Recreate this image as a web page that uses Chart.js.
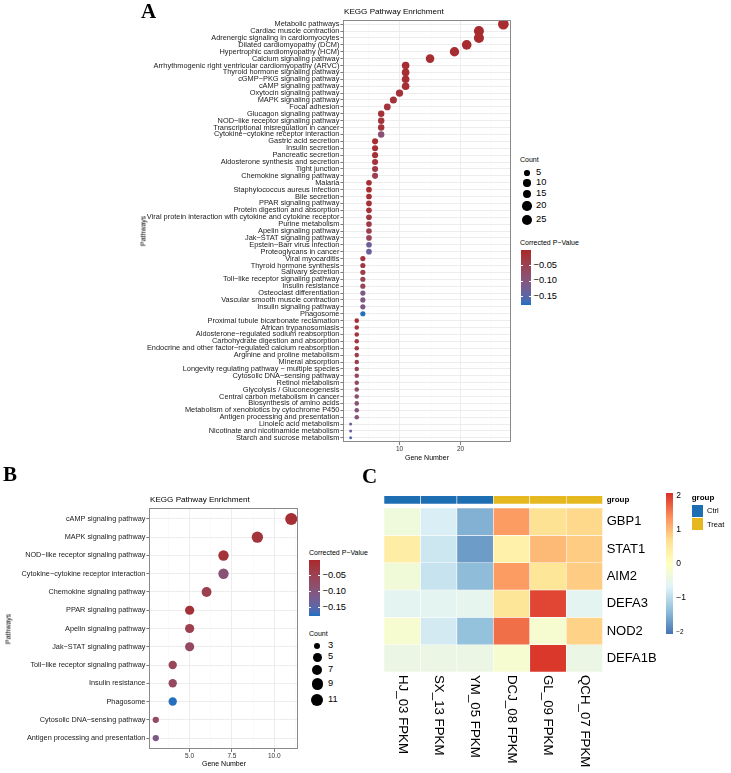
<!DOCTYPE html>
<html><head><meta charset="utf-8">
<script src="https://cdn.jsdelivr.net/npm/chart.js@4.4.1/dist/chart.umd.min.js"></script>
<style>
html,body{margin:0;padding:0;background:#fff;}
#wrap{position:relative;width:731px;height:773px;overflow:hidden;font-family:'Liberation Sans',Arial,sans-serif;background:#fff;}
canvas{position:absolute;}
.t{position:absolute;white-space:nowrap;line-height:1;color:#000;}
.letter{font-family:'Liberation Serif','Times New Roman',serif;font-weight:bold;}
.blk{position:absolute;}
</style></head><body><div id="wrap">
<canvas id="cA" width="520" height="470" style="left:0;top:0"></canvas>
<canvas id="cB" width="305" height="293" style="left:0;top:480px"></canvas>
<canvas id="cC" width="300" height="293" style="left:370px;top:480px"></canvas>
</div>
<script>
// ================= DATA =================
const pathwaysA = [
 "Metabolic pathways","Cardiac muscle contraction","Adrenergic signaling in cardiomyocytes",
 "Dilated cardiomyopathy (DCM)","Hypertrophic cardiomyopathy (HCM)","Calcium signaling pathway",
 "Arrhythmogenic right ventricular cardiomyopathy (ARVC)","Thyroid hormone signaling pathway",
 "cGMP\u2212PKG signaling pathway","cAMP signaling pathway","Oxytocin signaling pathway",
 "MAPK signaling pathway","Focal adhesion","Glucagon signaling pathway",
 "NOD\u2212like receptor signaling pathway","Transcriptional misregulation in cancer",
 "Cytokine\u2212cytokine receptor interaction","Gastric acid secretion","Insulin secretion",
 "Pancreatic secretion","Aldosterone synthesis and secretion","Tight junction",
 "Chemokine signaling pathway","Malaria","Staphylococcus aureus infection","Bile secretion",
 "PPAR signaling pathway","Protein digestion and absorption",
 "Viral protein interaction with cytokine and cytokine receptor","Purine metabolism",
 "Apelin signaling pathway","Jak\u2212STAT signaling pathway","Epstein\u2212Barr virus infection",
 "Proteoglycans in cancer","Viral myocarditis","Thyroid hormone synthesis","Salivary secretion",
 "Toll\u2212like receptor signaling pathway","Insulin resistance","Osteoclast differentiation",
 "Vascular smooth muscle contraction","Insulin signaling pathway","Phagosome",
 "Proximal tubule bicarbonate reclamation","African trypanosomiasis",
 "Aldosterone\u2212regulated sodium reabsorption","Carbohydrate digestion and absorption",
 "Endocrine and other factor\u2212regulated calcium reabsorption","Arginine and proline metabolism",
 "Mineral absorption","Longevity regulating pathway \u2212 multiple species",
 "Cytosolic DNA\u2212sensing pathway","Retinol metabolism","Glycolysis / Gluconeogenesis",
 "Central carbon metabolism in cancer","Biosynthesis of amino acids",
 "Metabolism of xenobiotics by cytochrome P450","Antigen processing and presentation",
 "Linoleic acid metabolism","Nicotinate and nicotinamide metabolism","Starch and sucrose metabolism"
];
const geneNumberA = [27,23,23,21,19,15,11,11,11,11,10,9,8,7,7,7,7,6,6,6,6,6,6,5,5,5,5,5,5,5,5,5,5,5,
 4,4,4,4,4,4,4,4,4,3,3,3,3,3,3,3,3,3,3,3,3,3,3,3,2,2,2];
const pvalueA = [-0.005,-0.004,-0.005,-0.006,-0.008,-0.010,-0.008,-0.010,-0.012,-0.012,-0.015,-0.020,
 -0.020,-0.015,-0.018,-0.020,-0.090,-0.010,-0.012,-0.015,-0.020,-0.035,-0.045,-0.008,-0.010,-0.012,
 -0.015,-0.018,-0.025,-0.035,-0.045,-0.060,-0.130,-0.135,-0.020,-0.030,-0.040,-0.055,-0.060,-0.110,
 -0.105,-0.110,-0.175,-0.012,-0.020,-0.025,-0.030,-0.035,-0.040,-0.045,-0.055,-0.065,-0.070,-0.075,
 -0.080,-0.090,-0.095,-0.100,-0.120,-0.130,-0.150];

const pathwaysB = ["cAMP signaling pathway","MAPK signaling pathway","NOD\u2212like receptor signaling pathway",
 "Cytokine\u2212cytokine receptor interaction","Chemokine signaling pathway","PPAR signaling pathway",
 "Apelin signaling pathway","Jak\u2212STAT signaling pathway","Toll\u2212like receptor signaling pathway",
 "Insulin resistance","Phagosome","Cytosolic DNA\u2212sensing pathway","Antigen processing and presentation"];
const geneNumberB = [11,9,7,7,6,5,5,5,4,4,4,3,3];
const pvalueB = [-0.012,-0.020,-0.018,-0.090,-0.045,-0.015,-0.045,-0.065,-0.060,-0.065,-0.175,-0.070,-0.110];

const countTicksA = [5,10,15,20,25];
const countTicksB = [3,5,7,9,11];
const pvalueTicks = [-0.05,-0.10,-0.15];
const pvalueLimits = [-0.177, 0.0];

const samples = ["HJ_03 FPKM","SX_13 FPKM","YM_05 FPKM","DCJ_08 FPKM","GL_09 FPKM","QCH_07 FPKM"];
const sampleGroups = ["Ctrl","Ctrl","Ctrl","Treat","Treat","Treat"];
const genes = ["GBP1","STAT1","AIM2","DEFA3","NOD2","DEFA1B"];
const zGBP1   = [-0.35,-0.75,-1.50, 1.25, 0.65, 0.75];
const zSTAT1  = [ 0.40,-0.85,-1.70, 0.30, 1.00, 0.85];
const zAIM2   = [-0.30,-0.90,-1.40, 1.25, 0.55, 0.85];
const zDEFA3  = [-0.60,-0.60,-0.55, 0.55, 1.90,-0.60];
const zNOD2   = [-0.20,-0.80,-1.35, 1.60,-0.20, 0.80];
const zDEFA1B = [-0.45,-0.45,-0.45,-0.20, 2.00,-0.45];
const heatTicks = [2,1,0,-1,-2];
const heatLimit = 2.06;

// ================= HELPERS =================
const FONT = "'Liberation Sans', Arial, sans-serif";
const wrap = document.getElementById('wrap');
function hex2rgb(h){h=h.replace('#','');return [0,2,4].map(i=>parseInt(h.substr(i,2),16));}
function toLin(c){c/=255;return c<=0.04045?c/12.92:Math.pow((c+0.055)/1.055,2.4);}
function fromLin(c){c=c<=0.0031308?12.92*c:1.055*Math.pow(c,1/2.4)-0.055;return Math.round(Math.max(0,Math.min(1,c))*255);}
function rgb2lab(rgb){
  const [R,G,B]=rgb.map(toLin);
  const X=(0.4124*R+0.3576*G+0.1805*B)/0.95047, Y=0.2126*R+0.7152*G+0.0722*B, Z=(0.0193*R+0.1192*G+0.9505*B)/1.08883;
  const f=t=>t>0.008856?Math.cbrt(t):7.787*t+16/116;
  const fx=f(X),fy=f(Y),fz=f(Z);
  return [116*fy-16,500*(fx-fy),200*(fy-fz)];
}
function lab2rgb(lab){
  const fy=(lab[0]+16)/116, fx=fy+lab[1]/500, fz=fy-lab[2]/200;
  const inv=t=>{const t3=t*t*t;return t3>0.008856?t3:(t-16/116)/7.787;};
  const X=inv(fx)*0.95047, Y=inv(fy), Z=inv(fz)*1.08883;
  const R=3.2406*X-1.5372*Y-0.4986*Z, G=-0.9689*X+1.8758*Y+0.0415*Z, B=0.0557*X-0.2040*Y+1.0570*Z;
  return 'rgb('+fromLin(R)+','+fromLin(G)+','+fromLin(B)+')';
}
const labLow = rgb2lab(hex2rgb('#1C70C0')), labHigh = rgb2lab(hex2rgb('#A8282B'));
function pColor(p){
  let t=(p-pvalueLimits[0])/(pvalueLimits[1]-pvalueLimits[0]); t=Math.max(0,Math.min(1,t));
  return lab2rgb(labLow.map((v,i)=>v+(labHigh[i]-v)*t));
}
const rdylbu = ['#4575B4','#91BFDB','#E0F3F8','#FFFFBF','#FEE090','#FC8D59','#D73027'].map(hex2rgb);
function heatColor(z){
  let t=(z+heatLimit)/(2*heatLimit); t=Math.max(0,Math.min(1,t));
  const s=t*6, i=Math.min(5,Math.floor(s)), f=s-i;
  const c=rdylbu[i].map((v,k)=>Math.round(v+(rdylbu[i+1][k]-v)*f));
  return 'rgb('+c.join(',')+')';
}
const groupColors = {Ctrl:'#1E6EB4', Treat:'#E5B81F'};
function radiusA(c){return (3+7.7*Math.sqrt(Math.max(0,(c-2)/25)))/2;}
function radiusB(c){return (6.3+5.8*Math.sqrt(Math.max(0,(c-3)/8)))/2;}

function addText(txt,x,cy,size,o={}){
  const d=document.createElement('div'); d.className='t'+(o.cls?' '+o.cls:''); d.textContent=txt;
  d.style.fontSize=size+'px'; d.style.left=x+'px'; d.style.top=(cy-0.53*size)+'px';
  if(o.bold) d.style.fontWeight='bold';
  if(o.color) d.style.color=o.color;
  if(o.center) d.style.transform='translateX(-50%)';
  if(o.rot){d.style.top=cy+'px';d.style.transform='translate(-50%,-50%) rotate(-90deg)';}
  wrap.appendChild(d); return d;
}
function addBlock(x,y,w,h,bg,extra){
  const d=document.createElement('div'); d.className='blk';
  Object.assign(d.style,{left:x+'px',top:y+'px',width:w+'px',height:h+'px',background:bg},extra||{});
  wrap.appendChild(d); return d;
}

const boxPlugin = {id:'panelBox', afterDatasetsDraw(chart){
  const a=chart.chartArea, ctx=chart.ctx; ctx.save(); ctx.strokeStyle='#8A8A8A'; ctx.lineWidth=1;
  ctx.strokeRect(Math.round(a.left)+0.5,Math.round(a.top)+0.5,Math.round(a.right-a.left)-1,Math.round(a.bottom-a.top)-1);
  ctx.restore();}};

function dotChart(canvasId, pathways, genesN, pvals, radiusFn, cfg){
  return new Chart(document.getElementById(canvasId),{
    type:'scatter',
    data:{datasets:[{
      data: genesN.map((g,i)=>({x:g,y:i+1})),
      pointRadius: c=>radiusFn(genesN[c.dataIndex]),
      pointHoverRadius: c=>radiusFn(genesN[c.dataIndex]),
      pointBackgroundColor: c=>pColor(pvals[c.dataIndex]),
      pointBorderWidth:0, borderWidth:0
    }]},
    options:{
      responsive:false, animation:false, devicePixelRatio:1, events:[],
      layout:{padding:cfg.padding},
      plugins:{legend:{display:false},tooltip:{enabled:false}},
      scales:{
        x:{type:'linear',min:cfg.xmin,max:cfg.xmax,
          afterBuildTicks:s=>{s.ticks=cfg.xticks.map(v=>({value:v}));},
          afterFit:s=>{s.height=cfg.xh;},
          ticks:{callback:v=>cfg.xmajor.includes(v)?cfg.xfmt(v):'',font:{size:6.5,family:FONT},color:'#333',padding:0,maxRotation:0,autoSkip:false},
          grid:{color:c=>(c.tick&&cfg.xmajor.includes(c.tick.value))?'#EBEBEB':'#F4F4F4',
                lineWidth:c=>(c.tick&&cfg.xmajor.includes(c.tick.value))?0.9:0.5,
                tickLength:3, tickWidth:0.7,
                tickColor:c=>(c.tick&&cfg.xmajor.includes(c.tick.value))?'#444':'rgba(0,0,0,0)'},
          border:{display:false}},
        y:{type:'linear',min:0.4,max:pathways.length+0.6,reverse:true,
          afterBuildTicks:s=>{s.ticks=pathways.map((p,i)=>({value:i+1}));},
          afterFit:s=>{s.width=cfg.yw;},
          ticks:{callback:(v,i)=>pathways[i],autoSkip:false,font:{size:cfg.yfont,family:FONT},color:'#1a1a1a',padding:1},
          grid:{color:'#EBEBEB',lineWidth:0.9,tickLength:2.6,tickWidth:0.7,tickColor:'#444'},
          border:{display:false}}
      }
    },
    plugins:[boxPlugin]
  });
}

// ================= PANEL A =================
dotChart('cA',pathwaysA,geneNumberA,pvalueA,radiusA,{
  padding:{left:136,top:20,right:9,bottom:0}, xmin:0.75,xmax:28.25, xticks:[5,10,15,20,25], xmajor:[10,20],
  xfmt:v=>String(v), xh:28, yw:207, yfont:7.4});
addText('A',141,12,21,{cls:'letter'});
addText('KEGG Pathway Enrichment',344,12,8.1);
addText('Pathways',142.5,231,7,{rot:true});
addText('Gene Number',427,457.5,7,{center:true});
// Count legend A
addText('Count',520,160,7);
const legYA=[173.3,183,194,206,219.7];
countTicksA.forEach((c,i)=>{const r=radiusA(c);
  addBlock(527-r,legYA[i]-r,2*r,2*r,'#000',{borderRadius:'50%'});
  addText(String(c),536,legYA[i],9.3);});
// colour legend
function colourBar(x,y,w,h){
  const stops=[];for(let k=0;k<=20;k++){const p=pvalueLimits[1]-(pvalueLimits[1]-pvalueLimits[0])*k/20;stops.push(pColor(p)+' '+(k*5)+'%');}
  addBlock(x,y,w,h,'linear-gradient(to bottom,'+stops.join(',')+')');
  pvalueTicks.forEach(p=>{const yy=y+(pvalueLimits[1]-p)/(pvalueLimits[1]-pvalueLimits[0])*h;
    addBlock(x,yy-0.5,2,1,'#fff'); addBlock(x+w-2,yy-0.5,2,1,'#fff');
    addText('\u2212'+Math.abs(p).toFixed(2),x+w+2.5,yy,9.3);});
}
addText('Corrected P\u2212Value',520,243,7);
colourBar(520.7,250,10.3,55);

// ================= PANEL B =================
dotChart('cB',pathwaysB,geneNumberB,pvalueB,radiusB,{
  padding:{left:14,top:28,right:7,bottom:0}, xmin:2.6,xmax:11.4, xticks:[3.75,5,6.25,7.5,8.75,10,11.25], xmajor:[5,7.5,10],
  xfmt:v=>v.toFixed(1), xh:24, yw:135, yfont:7.3});
addText('B',3,475,21,{cls:'letter'});
addText('KEGG Pathway Enrichment',150,500,8.1);
addText('Pathways',8,628.5,7,{rot:true});
addText('Gene Number',224,764,7,{center:true});
addText('Corrected P\u2212Value',309,553,7);
colourBar(309.3,560,10.7,56);
addText('Count',309,634,7);
const legYB=[645.7,657.3,670,684,700];
countTicksB.forEach((c,i)=>{const r=radiusB(c);
  addBlock(317.3-r,legYB[i]-r,2*r,2*r,'#000',{borderRadius:'50%'});
  addText(String(c),328,legYB[i],9.3);});

// ================= PANEL C =================
const heatRows=[zGBP1,zSTAT1,zAIM2,zDEFA3,zNOD2,zDEFA1B];
const annTop=-0.45, annBottom=-0.146;
const colLabelPlugin={id:'colLabels',afterDraw(chart){
  const ctx=chart.ctx, xs=chart.scales.x, b=chart.chartArea.bottom;
  ctx.save(); ctx.font='13.3px '+FONT; ctx.fillStyle='#000'; ctx.textAlign='left'; ctx.textBaseline='middle';
  samples.forEach((s,i)=>{ctx.save();ctx.translate(xs.getPixelForValue(i),b+3);ctx.rotate(Math.PI/2);ctx.fillText(s,0,0);ctx.restore();});
  ctx.restore();}};
new Chart(document.getElementById('cC'),{
  type:'bar',
  data:{labels:samples,datasets:[
    {label:'group',data:samples.map(()=>[annTop,annBottom]),backgroundColor:sampleGroups.map(g=>groupColors[g])},
    ...genes.map((g,r)=>({label:g,data:samples.map(()=>[r,r+1]),backgroundColor:heatRows[r].map(heatColor)}))
  ]},
  options:{
    responsive:false,animation:false,devicePixelRatio:1,events:[],
    layout:{padding:{left:14,top:15.7,right:0,bottom:101}},
    plugins:{legend:{display:false},tooltip:{enabled:false}},
    datasets:{bar:{grouped:false,categoryPercentage:1,barPercentage:1,borderWidth:0.6,borderColor:'#ffffff',borderSkipped:false}},
    scales:{
      x:{type:'category',display:false,offset:true},
      y:{type:'linear',position:'right',min:annTop,max:6,reverse:true,
        afterBuildTicks:s=>{s.ticks=[(annTop+annBottom)/2,...genes.map((g,i)=>i+0.5)].map(v=>({value:v}));},
        afterFit:s=>{s.width=67.3;},
        ticks:{callback:(v,i)=>i===0?'group':genes[i-1],autoSkip:false,color:'#000',padding:4,
          font:c=>c.index===0?{size:8,weight:'bold',family:FONT}:{size:13,family:FONT}},
        grid:{display:false,drawTicks:false},border:{display:false}}
    }
  },
  plugins:[colLabelPlugin]
});
addText('C',362,477,21,{cls:'letter'});
// heat colour legend
(function(){
  const x=665.7,y=493,w=7.6,h=141;
  const stops=[];for(let k=0;k<=24;k++){const z=heatLimit-2*heatLimit*k/24;stops.push(heatColor(z)+' '+(k*100/24).toFixed(2)+'%');}
  addBlock(x,y,w,h,'linear-gradient(to bottom,'+stops.join(',')+')');
  heatTicks.forEach(z=>{const yy=y+(heatLimit-z)/(2*heatLimit)*h;
    addText(z<0?'\u2212'+Math.abs(z):String(z),x+w+3,yy,z===-2?6.5:8.5);});
})();
// group legend
addText('group',691.7,498,8,{bold:true});
addBlock(691.7,505,11.6,12.3,groupColors.Ctrl);
addBlock(691.7,517.8,11.6,12.6,groupColors.Treat);
addText('Ctrl',707,511,7.5);
addText('Treat',707,524.5,7.5);
</script>
</body></html>
